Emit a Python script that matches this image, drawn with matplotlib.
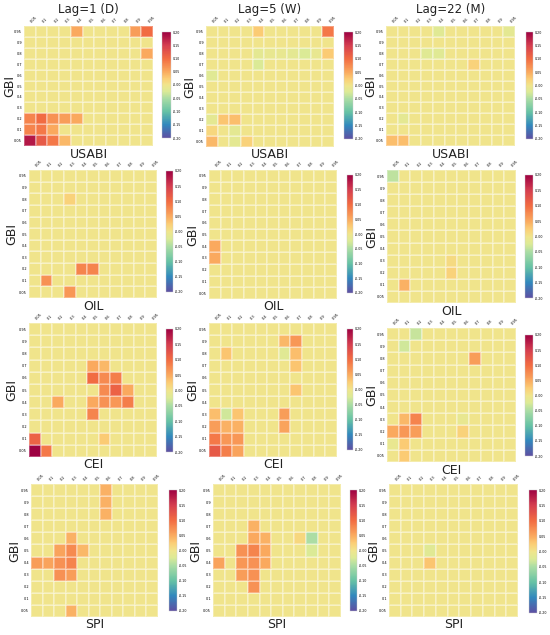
import numpy as np
import matplotlib
matplotlib.use("Agg")
import matplotlib.pyplot as plt
from matplotlib.colors import LinearSegmentedColormap

# quantile levels used on both axes
quantiles = ["0.05", "0.1", "0.2", "0.3", "0.4", "0.5", "0.6", "0.7", "0.8", "0.9", "0.95"]
lag_titles = ["Lag=1 (D)", "Lag=5 (W)", "Lag=22 (M)"]
row_names = ["USABI", "OIL", "CEI", "SPI"]

# non-zero cells: (x quantile index, y quantile index, value); y index 0 = 0.05 (bottom)
usabi_d = [(4, 10, 0.05), (9, 10, 0.06), (10, 10, 0.10), (10, 8, 0.05),
           (0, 2, 0.08), (1, 2, 0.10), (2, 2, 0.07), (3, 2, 0.06), (4, 2, 0.05),
           (0, 1, 0.08), (1, 1, 0.09), (2, 1, 0.05),
           (0, 0, 0.18), (1, 0, 0.12), (2, 0, 0.09), (3, 0, 0.04)]
usabi_w = [(4, 10, 0.025), (10, 10, 0.09),
           (4, 8, -0.015), (5, 8, -0.01), (6, 8, -0.01), (7, 8, -0.015), (8, 8, -0.025),
           (9, 8, -0.01), (10, 8, 0.025), (4, 7, -0.025), (0, 6, -0.02),
           (0, 2, -0.015), (1, 2, 0.03), (2, 2, 0.035),
           (0, 1, 0.015), (2, 1, -0.015),
           (0, 0, 0.04), (2, 0, -0.015), (3, 0, 0.02)]
usabi_m = [(4, 10, -0.02), (10, 10, -0.015), (3, 8, -0.02), (4, 8, -0.02),
           (7, 7, 0.02), (1, 2, -0.015), (0, 0, 0.035), (1, 0, 0.035)]

oil_d = [(3, 8, 0.02), (4, 2, 0.08), (5, 2, 0.08), (1, 1, 0.07), (3, 0, 0.065)]
oil_w = [(0, 4, 0.05), (0, 3, 0.05)]
oil_m = [(0, 10, -0.04), (5, 3, 0.012), (5, 2, 0.02), (1, 1, 0.045)]

cei_d = [(5, 7, 0.05), (6, 7, 0.04),
         (5, 6, 0.10), (6, 6, 0.075), (7, 6, 0.085),
         (6, 5, 0.075), (7, 5, 0.11), (8, 5, 0.05),
         (2, 4, 0.05), (5, 4, 0.05), (6, 4, 0.07), (7, 4, 0.065), (8, 4, 0.085),
         (5, 3, 0.08), (0, 1, 0.11), (6, 1, 0.025),
         (0, 0, 0.20), (1, 0, 0.09)]
cei_w = [(6, 9, 0.04), (7, 9, 0.065),
         (1, 8, 0.03), (6, 8, -0.02), (7, 8, 0.035),
         (7, 7, 0.03), (7, 5, 0.03),
         (0, 3, 0.035), (1, 3, -0.03), (2, 3, 0.03), (6, 3, 0.06),
         (0, 2, 0.06), (1, 2, 0.045), (2, 2, 0.045), (6, 2, 0.055),
         (0, 1, 0.09), (1, 1, 0.065), (2, 1, 0.065),
         (0, 0, 0.12), (1, 0, 0.085), (2, 0, 0.055)]
cei_m = [(2, 10, -0.035), (1, 9, -0.03), (7, 8, 0.06),
         (1, 3, 0.04), (2, 3, 0.08), (6, 3, -0.01),
         (0, 2, 0.05), (1, 2, 0.065), (2, 2, 0.06), (6, 2, 0.02),
         (0, 1, -0.008), (1, 1, 0.025), (1, 0, 0.025)]

spi_d = [(6, 10, 0.045), (6, 9, 0.045), (6, 8, 0.045),
         (3, 6, 0.045),
         (2, 5, 0.055), (3, 5, 0.075), (4, 5, 0.04),
         (0, 4, 0.06), (1, 4, 0.055), (2, 4, 0.07), (3, 4, 0.08),
         (2, 3, 0.07), (3, 3, 0.06), (3, 0, 0.045)]
spi_w = [(3, 7, 0.045),
         (3, 6, 0.05), (4, 6, 0.045), (7, 6, 0.015), (8, 6, -0.05),
         (2, 5, 0.07), (3, 5, 0.08), (4, 5, 0.05), (8, 5, -0.025),
         (0, 4, 0.055), (2, 4, 0.065), (3, 4, 0.07), (4, 4, 0.05),
         (2, 3, 0.06), (3, 3, 0.07), (3, 2, 0.07)]
spi_m = [(3, 5, -0.02), (3, 4, 0.03)]

panels = [[usabi_d, usabi_w, usabi_m],
          [oil_d, oil_w, oil_m],
          [cei_d, cei_w, cei_m],
          [spi_d, spi_w, spi_m]]

W, H = 550, 635
# pixel boxes (left, top, right, bottom) for heatmaps and colorbars
heat_boxes = [[(24, 26, 153, 146), (206, 26, 334, 147), (386, 26, 515, 146)],
              [(29, 170, 157, 298), (209, 170, 337, 299), (387, 170, 516, 303)],
              [(29, 323, 157, 457), (209, 323, 337, 457), (387, 328, 516, 462)],
              [(31, 484, 158, 617), (213, 484, 341, 617), (389, 484, 518, 617)]]
cbar_boxes = [[(162, 32, 171, 138), (344, 32, 353, 139), (526, 32, 533, 139)],
              [(166, 171, 173, 292), (347, 175, 353, 293), (525, 175, 533, 298)],
              [(166, 329, 173, 452), (347, 329, 353, 450), (525, 335, 533, 456)],
              [(169, 490, 177, 611), (350, 490, 357, 611), (529, 490, 537, 613)]]
gbi_x = [[10, 190, 371], [12, 193, 372], [12, 193, 372], [15, 196, 374]]


def px_rect(box):
    l, t, r, b = box
    return [l / W, 1 - b / H, (r - l) / W, (b - t) / H]


# Spectral-like map with the warmer, deeper yellow centre seen in the figure
cmap = LinearSegmentedColormap.from_list("spec", [
    (0.000, (94 / 255, 79 / 255, 162 / 255)),
    (0.125, (50 / 255, 136 / 255, 189 / 255)),
    (0.250, (102 / 255, 194 / 255, 165 / 255)),
    (0.375, (171 / 255, 221 / 255, 164 / 255)),
    (0.440, (220 / 255, 234 / 255, 150 / 255)),
    (0.500, (240 / 255, 229 / 255, 140 / 255)),
    (0.560, (251 / 255, 206 / 255, 118 / 255)),
    (0.625, (250 / 255, 170 / 255, 95 / 255)),
    (0.750, (242 / 255, 108 / 255, 66 / 255)),
    (0.875, (213 / 255, 62 / 255, 79 / 255)),
    (1.000, (158 / 255, 1 / 255, 66 / 255)),
])

fig = plt.figure(figsize=(5.5, 6.35), dpi=100)

for i in range(4):
    for j in range(3):
        grid = np.zeros((11, 11))
        for xi, yi, v in panels[i][j]:
            grid[yi, xi] = v
        ax = fig.add_axes(px_rect(heat_boxes[i][j]))
        mesh = ax.pcolormesh(grid, cmap=cmap, vmin=-0.2, vmax=0.2,
                             edgecolors=(1, 1, 1, 0.3), linewidth=0.2)
        ax.set_xlim(0, 11)
        ax.set_ylim(0, 11)
        ax.xaxis.tick_top()
        ax.set_xticks(np.arange(11) + 0.5)
        ax.set_xticklabels(quantiles, rotation=45, fontsize=2.5, ha="left")
        ax.set_yticks(np.arange(11) + 0.5)
        ax.set_yticklabels(quantiles, fontsize=2.5)
        ax.tick_params(length=0, pad=1.5)
        for s in ax.spines.values():
            s.set_visible(False)

        l, t, r, b = heat_boxes[i][j]
        fig.text((l + r) / 2 / W, 1 - (b + 8) / H, row_names[i],
                 ha="center", va="center", fontsize=9, color="#222222")
        fig.text(gbi_x[i][j] / W, 1 - (t + b) / 2 / H, "GBI", rotation=90,
                 ha="center", va="center", fontsize=9, color="#222222")
        if i == 0:
            fig.text((l + r) / 2 / W, 1 - 10 / H, lag_titles[j],
                     ha="center", va="center", fontsize=8.5, color="#222222")

        cax = fig.add_axes(px_rect(cbar_boxes[i][j]))
        cb = fig.colorbar(mesh, cax=cax, ticks=np.arange(-0.2, 0.201, 0.05))
        cb.ax.set_yticklabels(["%.2f" % v for v in np.arange(-0.2, 0.201, 0.05)])
        cb.ax.tick_params(labelsize=2.3, length=0, pad=1.2)
        cb.outline.set_linewidth(0.3)
        cb.outline.set_edgecolor("#cccccc")

fig.savefig("out.png", dpi=100)
